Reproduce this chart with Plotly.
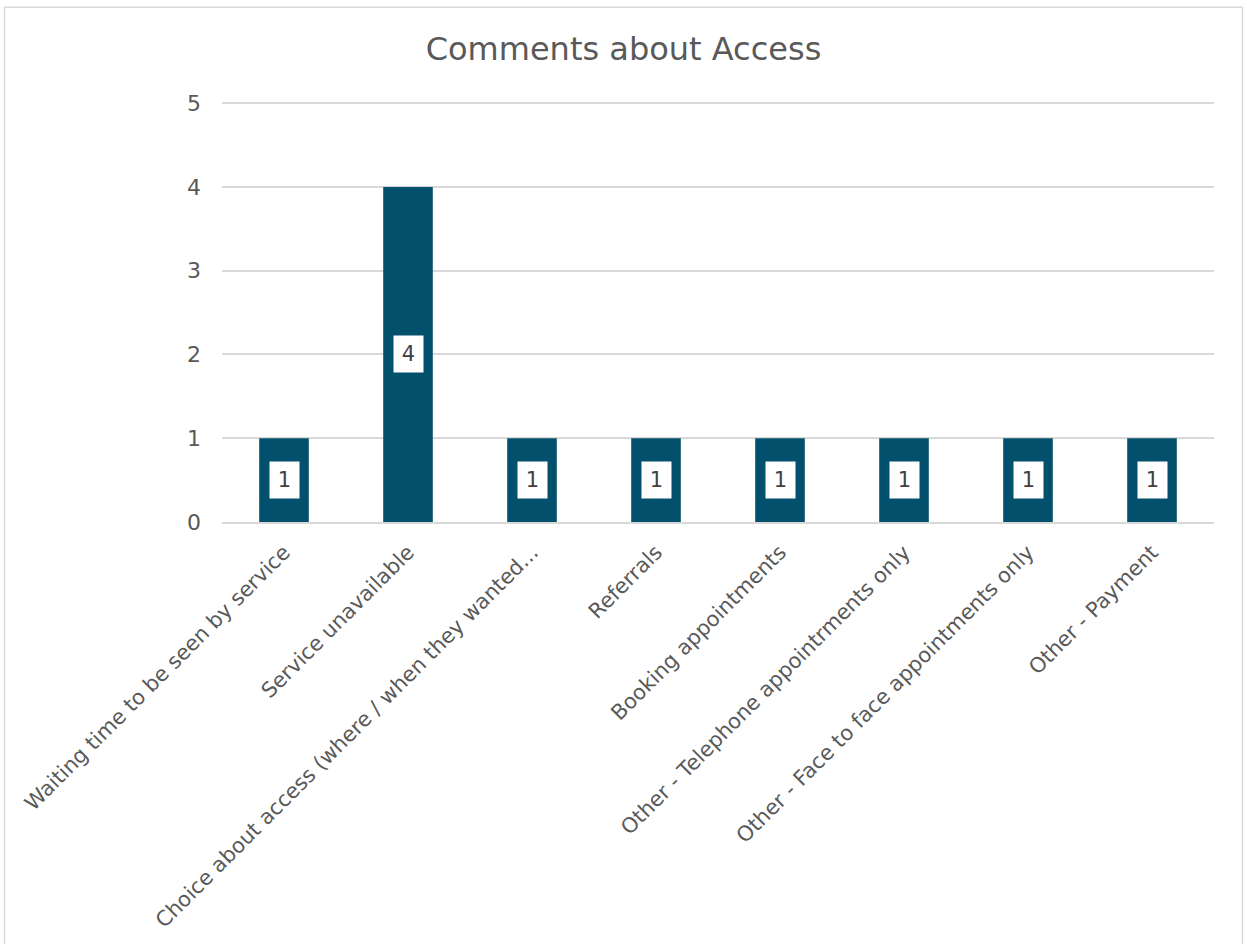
import plotly.graph_objects as go

categories = [
    "Waiting time to be seen by service",
    "Service unavailable",
    "Choice about access (where / when they wanted...",
    "Referrals",
    "Booking appointments",
    "Other - Telephone appointrments only",
    "Other - Face to face appointments only",
    "Other - Payment",
]
counts = [1, 4, 1, 1, 1, 1, 1, 1]
y_ticks = [0, 1, 2, 3, 4, 5]

BAR_COLOR = "#02506B"
TEXT_COLOR = "#595959"
GRID_COLOR = "#D9D9D9"
FONT = "DejaVu Sans"

W, H = 1247, 944
ML, MR, MT, MB = 222, 33, 99, 419
pw, ph = W - ML - MR, H - MT - MB

fig = go.Figure(
    go.Bar(
        x=categories,
        y=counts,
        marker=dict(color=BAR_COLOR, line=dict(width=0)),
        width=0.4,
        hoverinfo="x+y",
    )
)

# value labels in white boxes at the middle of each bar
for cat, v in zip(categories, counts):
    fig.add_annotation(
        x=cat, y=v / 2, text=str(v), showarrow=False,
        bgcolor="white", width=21, height=28, borderpad=4,
        font=dict(family=FONT, size=21, color="#404040"),
    )

# chart frame
def px_x(p):
    return (p - ML) / pw

def px_y(p):
    return (H - MB - p) / ph

fig.add_shape(
    type="rect", xref="paper", yref="paper",
    x0=px_x(4.5), x1=px_x(1242.5), y0=px_y(990), y1=px_y(6.5),
    line=dict(color="#D9D9D9", width=1.5), fillcolor="rgba(0,0,0,0)",
    layer="below",
)

fig.update_layout(
    width=W, height=H,
    margin=dict(l=ML, r=MR, t=MT, b=MB, pad=0),
    paper_bgcolor="white", plot_bgcolor="white",
    font=dict(family=FONT, color=TEXT_COLOR),
    title=dict(
        text="Comments about Access", x=0.5, xanchor="center",
        y=1 - 49 / H, yanchor="middle", yref="container",
        font=dict(family=FONT, size=32, color=TEXT_COLOR),
    ),
    showlegend=False,
    bargap=0.6,
)
fig.update_yaxes(
    range=[0, 5.05], tickvals=y_ticks, showgrid=True, gridcolor=GRID_COLOR,
    gridwidth=1.5, zeroline=False, showline=False,
    tickfont=dict(family=FONT, size=22, color=TEXT_COLOR),
    ticklabelstandoff=20,
)
fig.update_xaxes(
    tickangle=-45, showline=True, linecolor=GRID_COLOR, linewidth=1.5,
    tickfont=dict(family=FONT, size=21, color=TEXT_COLOR),
    ticklabelstandoff=8,
)

fig.write_html("out.html")
